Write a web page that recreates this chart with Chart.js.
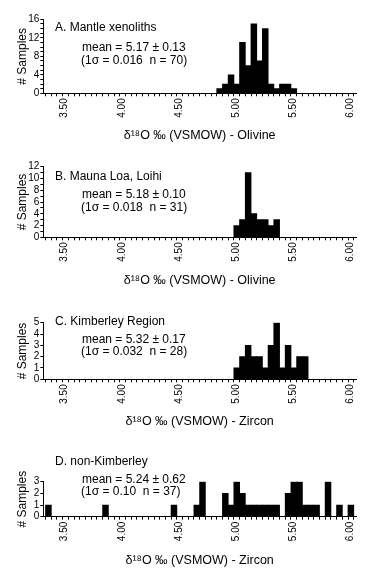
<!DOCTYPE html>
<html><head><meta charset="utf-8">
<script src="https://cdn.jsdelivr.net/npm/chart.js@4.4.1/dist/chart.umd.min.js"></script>
<style>
html,body{margin:0;padding:0;background:#fff;}
#wrap{position:relative;width:374px;height:580px;overflow:hidden;background:#fff;}
canvas{position:absolute;left:0;top:0;}
</style></head><body>
<div id="wrap">
<canvas id="cA" width="374" height="580"></canvas>
<canvas id="cB" width="374" height="580"></canvas>
<canvas id="cC" width="374" height="580"></canvas>
<canvas id="cD" width="374" height="580"></canvas>
</div>
<script>
// ---- data (histogram bins: left edge of each 0.05 bin, and number of samples) ----
const binWidth = 0.05;
const binStartA = [4.85,4.90,4.95,5.00,5.05,5.10,5.15,5.20,5.25,5.30,5.35,5.40,5.45,5.50];
const countA    = [1,   2,   4,   2,   11,  6,   15,  7,   14,  2,   1,   2,   2,   1];
const binStartB = [5.00,5.05,5.10,5.15,5.20,5.25,5.30,5.35];
const countB    = [2,   3,   11,  4,   3,   3,   2,   3];
const binStartC = [5.00,5.05,5.10,5.15,5.20,5.25,5.30,5.35,5.40,5.45,5.50,5.55,5.60];
const countC    = [1,   2,   3,   2,   2,   1,   3,   5,   1,   3,   1,   2,   2];
const binStartD = [3.35,3.85,4.45,4.65,4.70,4.90,4.95,5.00,5.05,5.10,5.15,5.20,5.25,5.30,5.35,5.45,5.50,5.55,5.60,5.65,5.70,5.80,5.90,6.00];
const countD    = [1,   1,   1,   1,   3,   2,   1,   3,   2,   1,   1,   1,   1,   1,   1,   2,   3,   3,   1,   1,   1,   3,   1,   1];

const xTickLabels = ['3.50','4.00','4.50','5.00','5.50','6.00'];
const yTickLabelsA = [0,4,8,12,16];
const yTickLabelsB = [0,2,4,6,8,10,12];
const yTickLabelsC = [0,1,2,3,4,5];
const yTickLabelsD = [0,1,2,3];

const panelTitles = ['A. Mantle xenoliths','B. Mauna Loa, Loihi','C. Kimberley Region','D. non-Kimberley'];
const meanTexts = ['mean = 5.17 \u00b1 0.13','mean = 5.18 \u00b1 0.10','mean = 5.32 \u00b1 0.17','mean = 5.24 \u00b1 0.62'];
const sigmaTexts = ['(1\u03c3 = 0.016  n = 70)','(1\u03c3 = 0.018  n = 31)','(1\u03c3 = 0.032  n = 28)','(1\u03c3 = 0.10  n = 37)'];
const xTitles = ['\u03b4\u00b9\u2078O \u2030 (VSMOW) - Olivine','\u03b4\u00b9\u2078O \u2030 (VSMOW) - Olivine','\u03b4\u00b9\u2078O \u2030 (VSMOW) - Zircon','\u03b4\u00b9\u2078O \u2030 (VSMOW) - Zircon'];
const yTitle = '# Samples';

// ---- layout (pixels on the 374x580 page) ----
const FONT = '"Liberation Sans", Arial, Helvetica, sans-serif';
const PLOT_LEFT = 43.3, PLOT_RIGHT = 356;
const layouts = [
  {plotTop:19.3,  plotBottom:93.3,  titleY:136, texts:[28,48,61]},
  {plotTop:166.7, plotBottom:237.3, titleY:281, texts:[177,195,208]},
  {plotTop:322.7, plotBottom:379.3, titleY:422, texts:[322,340,352]},
  {plotTop:481.7, plotBottom:516.7, titleY:561, texts:[462,480,492]}
];

const panelTextPlugin = {
  id: 'panelText',
  afterDraw(chart, args, opts) {
    const ctx = chart.ctx;
    ctx.save();
    ctx.fillStyle = '#000';
    ctx.font = '12px ' + FONT;
    ctx.textBaseline = 'middle';
    ctx.textAlign = 'left';
    (opts.items || []).forEach(it => ctx.fillText(it.text, it.x, it.y));
    ctx.restore();
  }
};

function makePanel(id, idx, starts, counts, yMax, yLabels) {
  const L = layouts[idx];
  const titleSize = 12.5;
  const titleLH = titleSize * 1.2;
  const xAxisBottom = L.titleY + titleLH / 2;
  new Chart(document.getElementById(id), {
    type: 'bar',
    data: {
      datasets: [{
        data: starts.map((s, i) => ({x: s + binWidth / 2, y: counts[i]})),
        backgroundColor: '#000',
        borderWidth: 0,
        inflateAmount: 0.4,
        categoryPercentage: 1.0,
        barPercentage: 1.0
      }]
    },
    options: {
      responsive: false,
      animation: false,
      events: [],
      layout: {padding: {left: 0, right: 374 - PLOT_RIGHT, top: L.plotTop, bottom: 580 - xAxisBottom}},
      plugins: {
        legend: {display: false},
        tooltip: {enabled: false},
        panelText: {items: [
          {text: panelTitles[idx], x: 55, y: L.texts[0]},
          {text: meanTexts[idx], x: 82, y: L.texts[1]},
          {text: sigmaTexts[idx], x: 81, y: L.texts[2]}
        ]}
      },
      scales: {
        x: {
          type: 'linear',
          min: 3.33, max: 6.07,
          offset: false,
          grid: {display: true, drawOnChartArea: false, drawTicks: true, tickLength: 3, color: '#000', lineWidth: 1, offset: false},
          border: {display: true, color: '#000', width: 1},
          ticks: {
            stepSize: binWidth,
            includeBounds: false,
            autoSkip: false,
            minRotation: 90, maxRotation: 90,
            padding: 2,
            labelOffset: 2,
            color: '#000',
            font: {family: FONT, size: 10},
            callback: (v) => { const s = Number(v).toFixed(2); return xTickLabels.includes(s) ? s : ''; }
          },
          title: {display: true, text: xTitles[idx], color: '#000', font: {family: FONT, size: titleSize}, padding: {top: 0, bottom: 0}},
          afterFit: (scale) => { scale.height = xAxisBottom - L.plotBottom; }
        },
        y: {
          min: 0, max: yMax,
          grid: {display: true, drawOnChartArea: false, drawTicks: true, tickLength: 3, color: '#000', lineWidth: 1},
          border: {display: true, color: '#000', width: 1},
          ticks: {
            stepSize: 1,
            autoSkip: false,
            padding: 1,
            color: '#000',
            font: {family: FONT, size: 10},
            callback: (v) => yLabels.includes(v) ? String(v) : ''
          },
          title: {display: true, text: yTitle, color: '#000', font: {family: FONT, size: 12}, padding: {top: 15.5, bottom: 0}},
          afterFit: (scale) => { scale.width = PLOT_LEFT; }
        }
      }
    },
    plugins: [panelTextPlugin]
  });
}

makePanel('cA', 0, binStartA, countA, 16, yTickLabelsA);
makePanel('cB', 1, binStartB, countB, 12, yTickLabelsB);
makePanel('cC', 2, binStartC, countC, 5, yTickLabelsC);
makePanel('cD', 3, binStartD, countD, 3, yTickLabelsD);
</script>
</body></html>
